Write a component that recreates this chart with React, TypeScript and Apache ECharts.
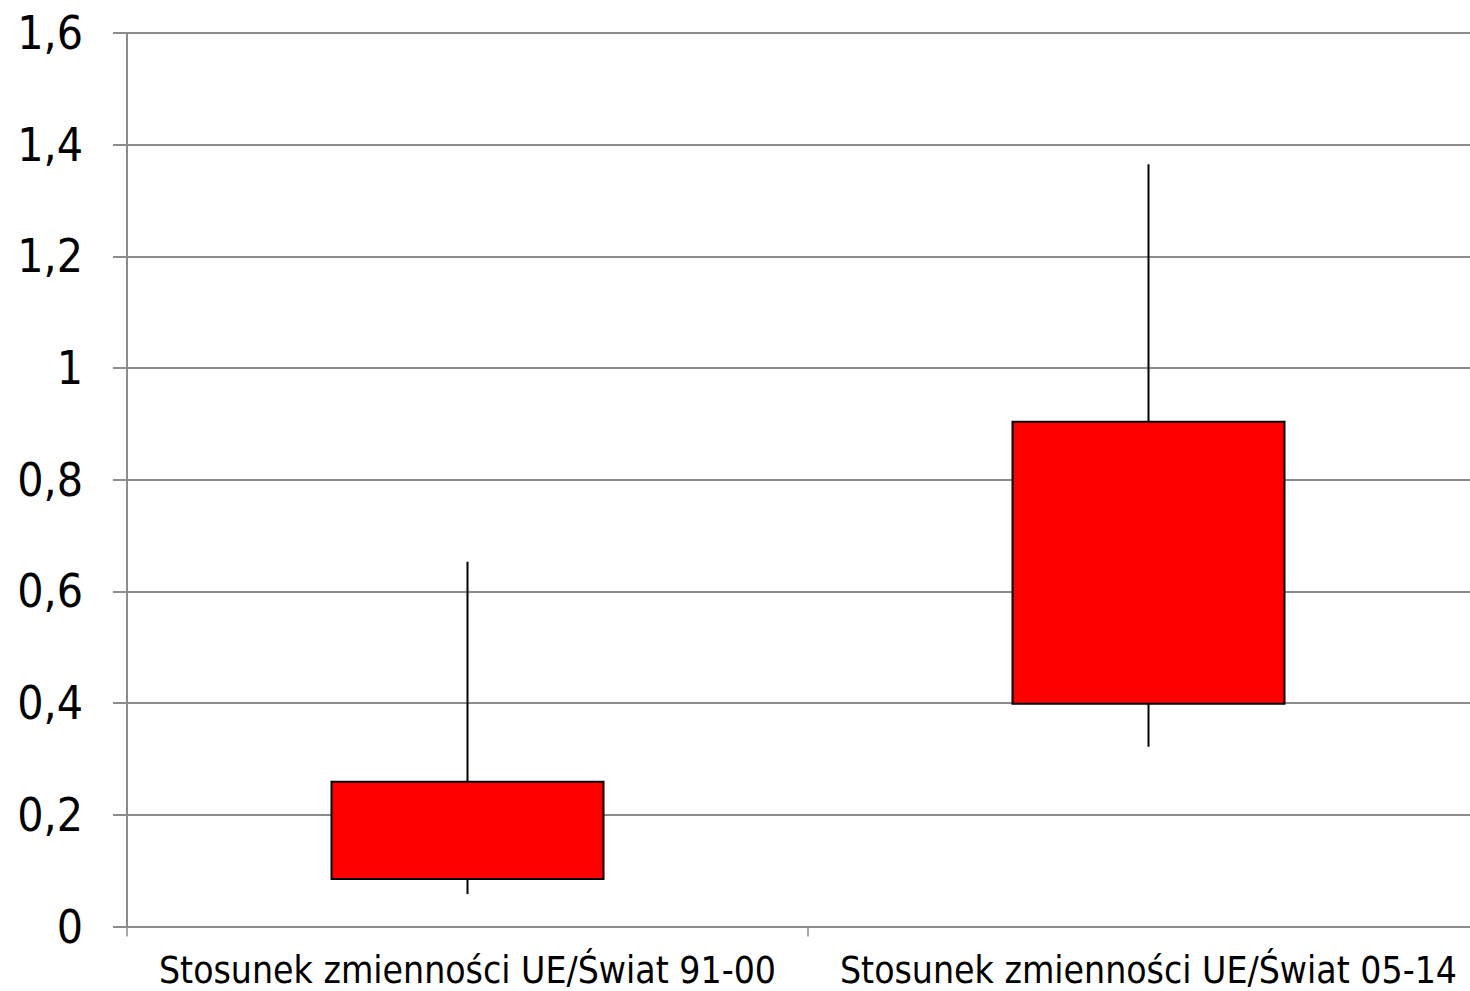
import React, { useEffect, useRef } from "react";
import * as echarts from "echarts";

const categories = [
  "Stosunek zmienności UE/Świat 91-00",
  "Stosunek zmienności UE/Świat 05-14",
];
// [lower quartile (open), upper quartile (close), min, max]
const boxLow = [0.085, 0.399];
const boxHigh = [0.259, 0.904];
const whiskerLow = [0.058, 0.322];
const whiskerHigh = [0.653, 1.365];
const yTicks = { min: 0, max: 1.6, interval: 0.2 };

export default function App() {
  const ref = useRef<HTMLDivElement>(null);
  useEffect(() => {
    if (!ref.current) return;
    const chart = echarts.init(ref.current, undefined, { renderer: "svg" });
    const data = categories.map((_, i) => [boxLow[i], boxHigh[i], whiskerLow[i], whiskerHigh[i]]);
    const font = "'DejaVu Sans Condensed', 'DejaVu Sans', sans-serif";
    chart.setOption({
      animation: false,
      backgroundColor: "#ffffff",
      grid: { left: 127, right: 0, top: 33, bottom: 64.5, containLabel: false },
      xAxis: {
        type: "category",
        data: categories,
        boundaryGap: true,
        axisLine: { show: true, lineStyle: { color: "#8c8c8c", width: 2 } },
        axisTick: { show: true, alignWithLabel: false, length: 10, lineStyle: { color: "#8c8c8c", width: 1.5 } },
        axisLabel: { color: "#000", fontFamily: font, fontSize: 37, margin: 25, interval: 0 },
        splitLine: { show: false },
      },
      yAxis: {
        type: "value",
        min: yTicks.min,
        max: yTicks.max,
        interval: yTicks.interval,
        axisLine: { show: true, lineStyle: { color: "#8c8c8c", width: 2 } },
        axisTick: { show: true, length: 14, lineStyle: { color: "#8c8c8c", width: 2 } },
        axisLabel: {
          color: "#000",
          fontFamily: font,
          fontSize: 46,
          margin: 44,
          formatter: (v: number) => (Math.round(v * 10) / 10).toString().replace(".", ","),
        },
        splitLine: { show: true, lineStyle: { color: "#8c8c8c", width: 2 } },
      },
      series: [
        {
          type: "candlestick",
          data,
          barWidth: 272,
          itemStyle: {
            color: "#ff0000",
            color0: "#ff0000",
            borderColor: "#000000",
            borderColor0: "#000000",
            borderWidth: 2,
          },
        },
      ],
    });
    return () => chart.dispose();
  }, []);
  return (
    <div style={{ position: "absolute", left: 0, top: 0, width: 1470, height: 991, overflow: "hidden" }}>
      <div ref={ref} style={{ width: 1489, height: 991 }} />
    </div>
  );
}
